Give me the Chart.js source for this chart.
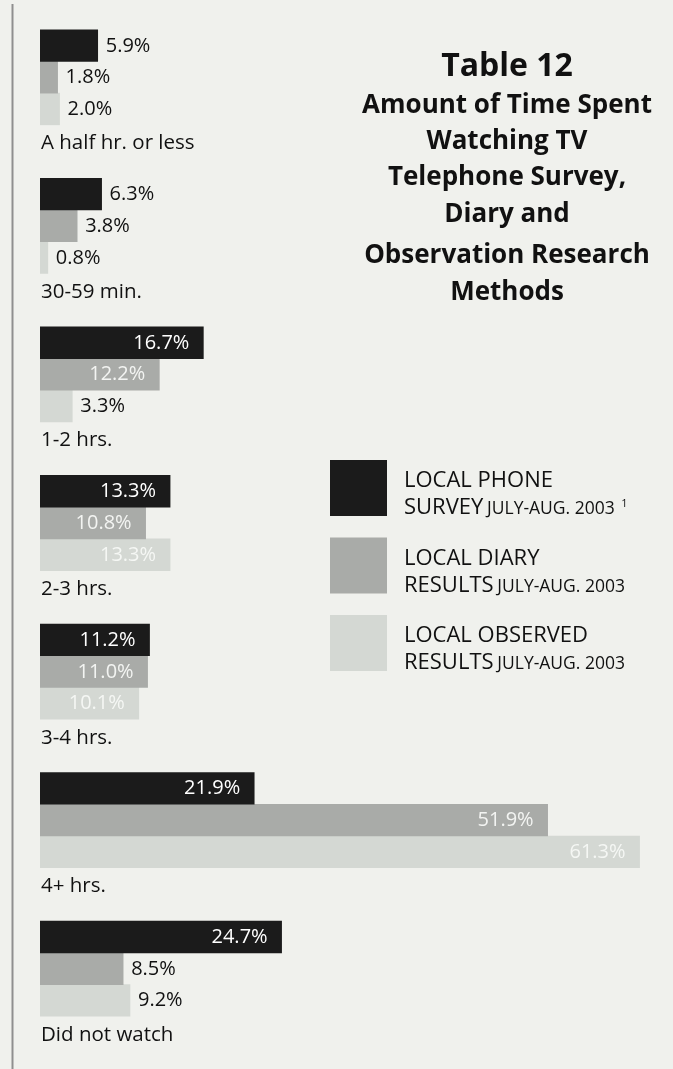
<!DOCTYPE html>
<html>
<head>
<meta charset="utf-8">
<title>Table 12 – Amount of Time Spent Watching TV</title>
<script src="https://cdn.jsdelivr.net/npm/chart.js@4.4.1/dist/chart.umd.min.js"></script>
<style>
  html, body { margin: 0; padding: 0; background: #f0f1ed; }
  #wrap { position: relative; width: 673px; height: 1069px; overflow: hidden; }
  canvas { display: block; }
</style>
</head>
<body>
<div id="wrap"><canvas id="tv" width="673" height="1069"></canvas></div>
<script>
// Time-spent categories (top to bottom)
const categories = [
  "A half hr. or less",
  "30-59 min.",
  "1-2 hrs.",
  "2-3 hrs.",
  "3-4 hrs.",
  "4+ hrs.",
  "Did not watch"
];

// Percent of respondents per method
const phoneSurvey     = [5.9, 6.3, 16.7, 13.3, 11.2, 21.9, 24.7];
const diaryResults    = [1.8, 3.8, 12.2, 10.8, 11.0, 51.9, 8.5];
const observedResults = [2.0, 0.8, 3.3, 13.3, 10.1, 61.3, 9.2];

// Legend wording: main caption and smaller period note
const seriesNames   = ["LOCAL PHONE SURVEY", "LOCAL DIARY RESULTS", "LOCAL OBSERVED RESULTS"];
const seriesLine1   = ["LOCAL PHONE", "LOCAL DIARY", "LOCAL OBSERVED"];
const seriesLine2   = ["SURVEY", "RESULTS", "RESULTS"];
const seriesPeriod  = "JULY-AUG. 2003";
const seriesNote    = ["1", "", ""];

const titleLines = [
  "Table 12",
  "Amount of Time Spent",
  "Watching TV",
  "Telephone Survey,",
  "Diary and",
  "Observation Research",
  "Methods"
];

const barColors    = ["#1b1b1b", "#a9aba8", "#d4d8d3"];
const insideColors = ["#ffffff", "#f3f4f2", "#f5f7f4"];
const inkColor     = "#111111";
const FONT = '"Open Sans", "Noto Sans", sans-serif';

// Page background and scanned left edge rule
const pagePlugin = {
  id: 'page',
  beforeDraw(chart) {
    const ctx = chart.ctx;
    ctx.save();
    ctx.fillStyle = '#f0f1ed';
    ctx.fillRect(0, 0, chart.width, chart.height);
    ctx.fillStyle = '#8f8f8f';
    ctx.fillRect(11.5, 4, 2, chart.height - 4);
    ctx.restore();
  }
};

// Value labels on/after each bar and the category caption under each group
const labelPlugin = {
  id: 'barLabels',
  afterDatasetsDraw(chart) {
    const ctx = chart.ctx;
    ctx.save();
    ctx.textBaseline = 'alphabetic';
    ctx.font = '20px ' + FONT;
    chart.data.datasets.forEach((ds, di) => {
      const meta = chart.getDatasetMeta(di);
      meta.data.forEach((bar, i) => {
        const v = ds.data[i];
        const txt = v.toFixed(1) + '%';
        if (v >= 10) {
          ctx.fillStyle = insideColors[di];
          ctx.textAlign = 'right';
          ctx.fillText(txt, bar.x - 14, bar.y + 6);
        } else {
          ctx.fillStyle = inkColor;
          ctx.textAlign = 'left';
          ctx.fillText(txt, bar.x + 8, bar.y + 6);
        }
      });
    });
    const ys = chart.scales.y;
    ctx.fillStyle = inkColor;
    ctx.textAlign = 'left';
    ctx.font = '20.5px ' + FONT;
    categories.forEach((c, i) => {
      ctx.fillText(c, 41, ys.getPixelForValue(i) + 72);
    });
    ctx.restore();
  }
};

// Title block and legend on the right-hand side
const sidePlugin = {
  id: 'side',
  afterDraw(chart) {
    const ctx = chart.ctx;
    ctx.save();
    ctx.fillStyle = inkColor;
    ctx.textAlign = 'center';
    ctx.textBaseline = 'alphabetic';
    const cx = 507;
    const baselines = [76, 113, 149, 185, 222, 263, 300];
    titleLines.forEach((t, i) => {
      ctx.font = (i === 0 ? 'bold 32px ' : 'bold 26px ') + FONT;
      ctx.fillText(t, cx, baselines[i]);
    });

    // legend
    ctx.textAlign = 'left';
    chart.data.datasets.forEach((ds, di) => {
      const top = 460 + di * 77.5;
      ctx.fillStyle = ds.backgroundColor;
      ctx.fillRect(330, top, 57, 56);
      ctx.fillStyle = inkColor;
      ctx.font = '22px ' + FONT;
      ctx.fillText(seriesLine1[di], 404, top + 27);
      ctx.fillText(seriesLine2[di], 404, top + 54);
      let x = 404 + ctx.measureText(seriesLine2[di] + ' ').width - 2;
      ctx.font = '17.5px ' + FONT;
      ctx.fillText(seriesPeriod, x, top + 54);
      if (seriesNote[di]) {
        x += ctx.measureText(seriesPeriod + ' ').width + 2;
        ctx.font = '11px ' + FONT;
        ctx.fillText(seriesNote[di], x, top + 47);
      }
    });
    ctx.restore();
  }
};

new Chart(document.getElementById('tv'), {
  type: 'bar',
  data: {
    labels: categories,
    datasets: [
      { label: seriesNames[0], data: phoneSurvey,     backgroundColor: barColors[0] },
      { label: seriesNames[1], data: diaryResults,    backgroundColor: barColors[1] },
      { label: seriesNames[2], data: observedResults, backgroundColor: barColors[2] }
    ]
  },
  options: {
    indexAxis: 'y',
    responsive: false,
    animation: false,
    devicePixelRatio: 1,
    datasets: { bar: { barThickness: 31.7, borderWidth: 0 } },
    layout: { padding: { left: 40, right: 7, top: 3, bottom: 26 } },
    scales: {
      x: { display: false, min: 0, max: 64 },
      y: { display: false }
    },
    plugins: {
      legend: { display: false },
      tooltip: { enabled: false },
      title: { display: false }
    }
  },
  plugins: [pagePlugin, labelPlugin, sidePlugin]
});
</script>
</body>
</html>
